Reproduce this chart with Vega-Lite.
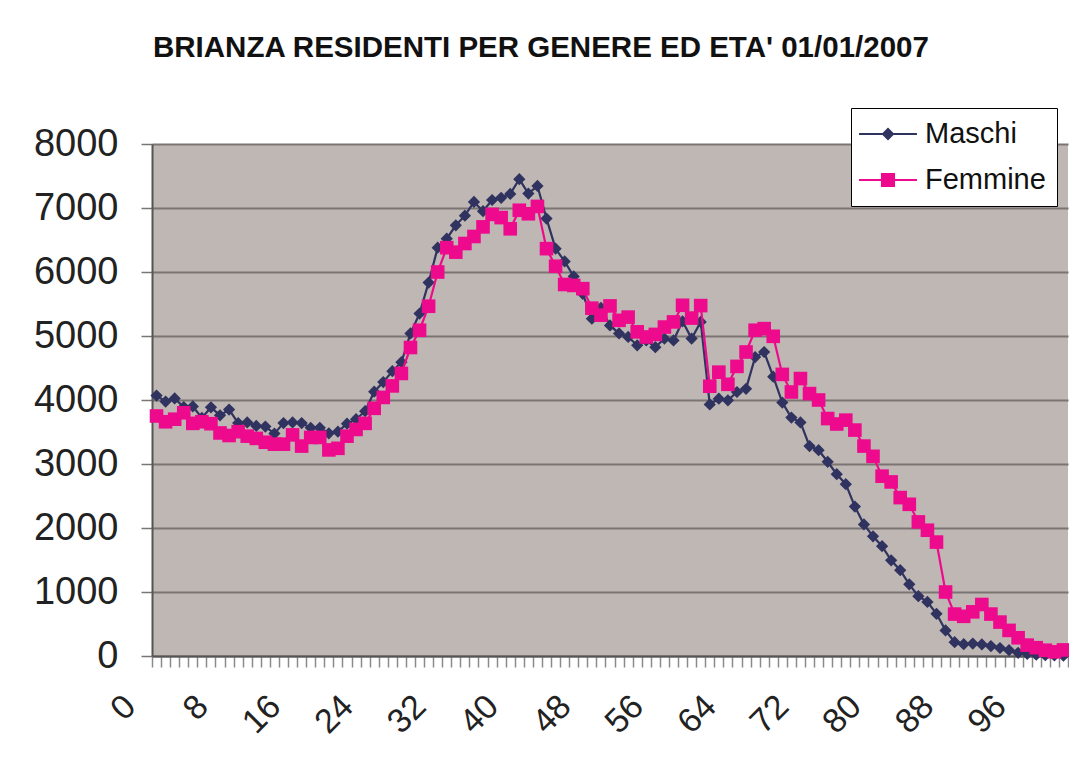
{
  "$schema": "https://vega.github.io/schema/vega-lite/v6.json",
  "width": 916,
  "height": 512,
  "autosize": {"type": "none"},
  "padding": {"left": 152, "top": 144, "right": 1, "bottom": 122},
  "background": "white",
  "title": {
    "text": "BRIANZA RESIDENTI PER GENERE ED ETA' 01/01/2007",
    "anchor": "start",
    "frame": "group",
    "dx": 1,
    "offset": 44,
    "font": "Liberation Sans",
    "fontSize": 29.5,
    "fontWeight": "bold",
    "color": "#111111"
  },
  "data": {
    "values": [
      {"eta": 0, "Maschi": 4070, "Femmine": 3750},
      {"eta": 1, "Maschi": 3975, "Femmine": 3660},
      {"eta": 2, "Maschi": 4025, "Femmine": 3700},
      {"eta": 3, "Maschi": 3890, "Femmine": 3800},
      {"eta": 4, "Maschi": 3900, "Femmine": 3635},
      {"eta": 5, "Maschi": 3720, "Femmine": 3660},
      {"eta": 6, "Maschi": 3885, "Femmine": 3630},
      {"eta": 7, "Maschi": 3760, "Femmine": 3485},
      {"eta": 8, "Maschi": 3850, "Femmine": 3445},
      {"eta": 9, "Maschi": 3640, "Femmine": 3505},
      {"eta": 10, "Maschi": 3650, "Femmine": 3435},
      {"eta": 11, "Maschi": 3595, "Femmine": 3400},
      {"eta": 12, "Maschi": 3585, "Femmine": 3340},
      {"eta": 13, "Maschi": 3475, "Femmine": 3310},
      {"eta": 14, "Maschi": 3640, "Femmine": 3310},
      {"eta": 15, "Maschi": 3650, "Femmine": 3455},
      {"eta": 16, "Maschi": 3640, "Femmine": 3280},
      {"eta": 17, "Maschi": 3565, "Femmine": 3415},
      {"eta": 18, "Maschi": 3565, "Femmine": 3415},
      {"eta": 19, "Maschi": 3480, "Femmine": 3220},
      {"eta": 20, "Maschi": 3505, "Femmine": 3245},
      {"eta": 21, "Maschi": 3630, "Femmine": 3435},
      {"eta": 22, "Maschi": 3700, "Femmine": 3540},
      {"eta": 23, "Maschi": 3825, "Femmine": 3635},
      {"eta": 24, "Maschi": 4130, "Femmine": 3870},
      {"eta": 25, "Maschi": 4280, "Femmine": 4040},
      {"eta": 26, "Maschi": 4450, "Femmine": 4220},
      {"eta": 27, "Maschi": 4590, "Femmine": 4415},
      {"eta": 28, "Maschi": 5040, "Femmine": 4820},
      {"eta": 29, "Maschi": 5350, "Femmine": 5090},
      {"eta": 30, "Maschi": 5835, "Femmine": 5465},
      {"eta": 31, "Maschi": 6380, "Femmine": 6000},
      {"eta": 32, "Maschi": 6520, "Femmine": 6380},
      {"eta": 33, "Maschi": 6730, "Femmine": 6310},
      {"eta": 34, "Maschi": 6880, "Femmine": 6445},
      {"eta": 35, "Maschi": 7095, "Femmine": 6555},
      {"eta": 36, "Maschi": 6950, "Femmine": 6705},
      {"eta": 37, "Maschi": 7125, "Femmine": 6900},
      {"eta": 38, "Maschi": 7160, "Femmine": 6850},
      {"eta": 39, "Maschi": 7220, "Femmine": 6675},
      {"eta": 40, "Maschi": 7450, "Femmine": 6965},
      {"eta": 41, "Maschi": 7225, "Femmine": 6910},
      {"eta": 42, "Maschi": 7345, "Femmine": 7025},
      {"eta": 43, "Maschi": 6835, "Femmine": 6365},
      {"eta": 44, "Maschi": 6365, "Femmine": 6090},
      {"eta": 45, "Maschi": 6165, "Femmine": 5805},
      {"eta": 46, "Maschi": 5930, "Femmine": 5790},
      {"eta": 47, "Maschi": 5660, "Femmine": 5740},
      {"eta": 48, "Maschi": 5270, "Femmine": 5435},
      {"eta": 49, "Maschi": 5440, "Femmine": 5325},
      {"eta": 50, "Maschi": 5165, "Femmine": 5470},
      {"eta": 51, "Maschi": 5040, "Femmine": 5245},
      {"eta": 52, "Maschi": 4985, "Femmine": 5295},
      {"eta": 53, "Maschi": 4855, "Femmine": 5065},
      {"eta": 54, "Maschi": 4930, "Femmine": 4985},
      {"eta": 55, "Maschi": 4825, "Femmine": 5025},
      {"eta": 56, "Maschi": 4960, "Femmine": 5140},
      {"eta": 57, "Maschi": 4930, "Femmine": 5220},
      {"eta": 58, "Maschi": 5230, "Femmine": 5480},
      {"eta": 59, "Maschi": 4960, "Femmine": 5280},
      {"eta": 60, "Maschi": 5220, "Femmine": 5475},
      {"eta": 61, "Maschi": 3930, "Femmine": 4215},
      {"eta": 62, "Maschi": 4020, "Femmine": 4435},
      {"eta": 63, "Maschi": 3995, "Femmine": 4245},
      {"eta": 64, "Maschi": 4125, "Femmine": 4525},
      {"eta": 65, "Maschi": 4175, "Femmine": 4750},
      {"eta": 66, "Maschi": 4670, "Femmine": 5090},
      {"eta": 67, "Maschi": 4750, "Femmine": 5115},
      {"eta": 68, "Maschi": 4365, "Femmine": 4995},
      {"eta": 69, "Maschi": 3960, "Femmine": 4400},
      {"eta": 70, "Maschi": 3725, "Femmine": 4125},
      {"eta": 71, "Maschi": 3650, "Femmine": 4335},
      {"eta": 72, "Maschi": 3280, "Femmine": 4100},
      {"eta": 73, "Maschi": 3215, "Femmine": 4000},
      {"eta": 74, "Maschi": 3035, "Femmine": 3710},
      {"eta": 75, "Maschi": 2840, "Femmine": 3625},
      {"eta": 76, "Maschi": 2685, "Femmine": 3685},
      {"eta": 77, "Maschi": 2335, "Femmine": 3530},
      {"eta": 78, "Maschi": 2055, "Femmine": 3280},
      {"eta": 79, "Maschi": 1870, "Femmine": 3120},
      {"eta": 80, "Maschi": 1715, "Femmine": 2810},
      {"eta": 81, "Maschi": 1495, "Femmine": 2720},
      {"eta": 82, "Maschi": 1340, "Femmine": 2475},
      {"eta": 83, "Maschi": 1120, "Femmine": 2370},
      {"eta": 84, "Maschi": 935, "Femmine": 2095},
      {"eta": 85, "Maschi": 845, "Femmine": 1965},
      {"eta": 86, "Maschi": 660, "Femmine": 1780},
      {"eta": 87, "Maschi": 400, "Femmine": 1000},
      {"eta": 88, "Maschi": 215, "Femmine": 655},
      {"eta": 89, "Maschi": 185, "Femmine": 620},
      {"eta": 90, "Maschi": 195, "Femmine": 690},
      {"eta": 91, "Maschi": 180, "Femmine": 805},
      {"eta": 92, "Maschi": 155, "Femmine": 655},
      {"eta": 93, "Maschi": 125, "Femmine": 530},
      {"eta": 94, "Maschi": 90, "Femmine": 400},
      {"eta": 95, "Maschi": 50, "Femmine": 285},
      {"eta": 96, "Maschi": 35, "Femmine": 170},
      {"eta": 97, "Maschi": 20, "Femmine": 130},
      {"eta": 98, "Maschi": 12, "Femmine": 90},
      {"eta": 99, "Maschi": 8, "Femmine": 65},
      {"eta": 100, "Maschi": 5, "Femmine": 95}
    ]
  },
  "transform": [{"fold": ["Maschi", "Femmine"], "as": ["sesso", "residenti"]}],
  "encoding": {
    "x": {
      "field": "eta",
      "type": "quantitative",
      "scale": {"domain": [-0.5, 100.5], "nice": false, "zero": false},
      "axis": {
        "title": null,
        "values": [-0.5, 0.5, 1.5, 2.5, 3.5, 4.5, 5.5, 6.5, 7.5, 8.5, 9.5, 10.5, 11.5, 12.5, 13.5, 14.5, 15.5, 16.5, 17.5, 18.5, 19.5, 20.5, 21.5, 22.5, 23.5, 24.5, 25.5, 26.5, 27.5, 28.5, 29.5, 30.5, 31.5, 32.5, 33.5, 34.5, 35.5, 36.5, 37.5, 38.5, 39.5, 40.5, 41.5, 42.5, 43.5, 44.5, 45.5, 46.5, 47.5, 48.5, 49.5, 50.5, 51.5, 52.5, 53.5, 54.5, 55.5, 56.5, 57.5, 58.5, 59.5, 60.5, 61.5, 62.5, 63.5, 64.5, 65.5, 66.5, 67.5, 68.5, 69.5, 70.5, 71.5, 72.5, 73.5, 74.5, 75.5, 76.5, 77.5, 78.5, 79.5, 80.5, 81.5, 82.5, 83.5, 84.5, 85.5, 86.5, 87.5, 88.5, 89.5, 90.5, 91.5, 92.5, 93.5, 94.5, 95.5, 96.5, 97.5, 98.5, 99.5, 100.5],
        "labelExpr": "(datum.value + 0.5) % 8 === 0 ? format(datum.value + 0.5, 'd') : ''",
        "labelAngle": -45,
        "labelAlign": "right",
        "labelBaseline": "middle",
        "labelFont": "Liberation Sans",
        "labelFontSize": 34,
        "labelColor": "#222222",
        "labelPadding": 34,
        "labelOffset": -22,
        "labelOverlap": false,
        "labelFlush": false,
        "labelBound": false,
        "grid": false,
        "tickSize": 11,
        "tickColor": "#8a8a8a",
        "tickWidth": 1.5,
        "domainColor": "#555555",
        "domainWidth": 2
      }
    },
    "y": {
      "field": "residenti",
      "type": "quantitative",
      "scale": {"domain": [0, 8000], "nice": false},
      "axis": {
        "title": null,
        "values": [0, 1000, 2000, 3000, 4000, 5000, 6000, 7000, 8000],
        "format": "d",
        "labelFont": "Liberation Sans",
        "labelFontSize": 38,
        "labelColor": "#222222",
        "labelPadding": 23,
        "grid": true,
        "gridColor": "#7a7472",
        "gridWidth": 2,
        "tickSize": 11,
        "tickColor": "#7a7472",
        "tickWidth": 1.5,
        "domainColor": "#555555",
        "domainWidth": 2
      }
    }
  },
  "layer": [
    {
      "transform": [{"filter": "datum.sesso === 'Maschi'"}],
      "mark": {"type": "line", "color": "#30335f", "strokeWidth": 2.2}
    },
    {
      "transform": [{"filter": "datum.sesso === 'Maschi'"}],
      "mark": {"type": "point", "shape": "diamond", "filled": true, "color": "#30335f", "size": 150, "opacity": 1}
    },
    {
      "transform": [{"filter": "datum.sesso === 'Femmine'"}],
      "mark": {"type": "line", "color": "#ee0a8c", "strokeWidth": 2.2}
    },
    {
      "transform": [{"filter": "datum.sesso === 'Femmine'"}],
      "mark": {"type": "point", "shape": "square", "filled": true, "color": "#ee0a8c", "size": 185, "opacity": 1}
    },
    {
      "mark": {"type": "point", "filled": true, "opacity": 0},
      "encoding": {
        "color": {
          "field": "sesso",
          "type": "nominal",
          "scale": {"domain": ["Maschi", "Femmine"], "range": ["#30335f", "#ee0a8c"]},
          "legend": {
            "title": null,
            "orient": "none",
            "legendX": 699,
            "legendY": -36,
            "fillColor": "white",
            "strokeColor": "black",
            "padding": 11,
            "rowPadding": 16,
            "symbolSize": 900,
            "symbolOffset": 11,
            "symbolOpacity": 1,
            "symbolStrokeWidth": 0,
            "labelOffset": 22,
            "labelFont": "Liberation Sans",
            "labelFontSize": 29,
            "labelColor": "#111111"
          }
        },
        "shape": {
          "field": "sesso",
          "type": "nominal",
          "scale": {
            "domain": ["Maschi", "Femmine"],
            "range": [
              "M-1.93,-0.07L1.93,-0.07L1.93,0.07L-1.93,0.07ZM0,-0.43L0.43,0L0,0.43L-0.43,0Z",
              "M-1.93,-0.07L1.93,-0.07L1.93,0.07L-1.93,0.07ZM-0.47,-0.47L0.47,-0.47L0.47,0.47L-0.47,0.47Z"
            ]
          },
          "legend": {
            "title": null,
            "orient": "none",
            "legendX": 699,
            "legendY": -36,
            "fillColor": "white",
            "strokeColor": "black",
            "padding": 11,
            "rowPadding": 16,
            "symbolSize": 900,
            "symbolOffset": 11,
            "symbolOpacity": 1,
            "symbolStrokeWidth": 0,
            "labelOffset": 22,
            "labelFont": "Liberation Sans",
            "labelFontSize": 29,
            "labelColor": "#111111"
          }
        }
      }
    }
  ],
  "config": {
    "view": {"fill": "#bfb7b4", "stroke": null}
  }
}
